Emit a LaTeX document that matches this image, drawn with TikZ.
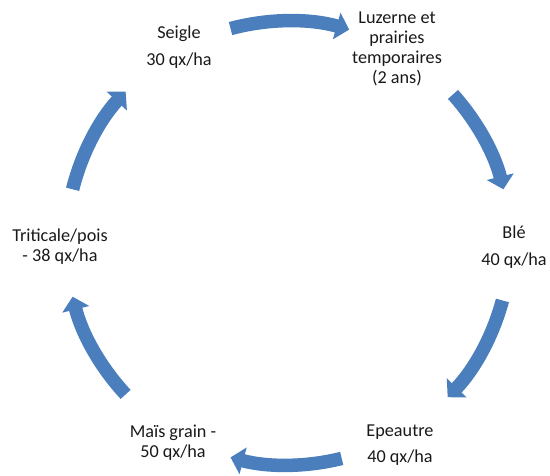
\documentclass[tikz,border=0pt]{standalone}
\usepackage{fontspec}
\setmainfont{Carlito}
\usetikzlibrary{arrows.meta}
\definecolor{cycblue}{RGB}{74,126,188}
\tikzset{
  lbl/.style={align=center, inner sep=0pt, font=\fontsize{18.2}{19.8}\selectfont, text=black!90},
  cyc/.style={draw=cycblue, line width=13.5pt, -{Triangle[length=13pt,width=27pt]}},
}
\begin{document}
\begin{tikzpicture}[x=1pt,y=1pt]
\useasboundingbox (0,0) rectangle (550,475);
\coordinate (c) at (288,232);
\node[lbl] (seigle) at (179,428) {Seigle\\[7.5pt]30 qx/ha};
\node[lbl] (luzerne) at (397,426) {Luzerne et\\prairies\\temporaires\\(2 ans)};
\node[lbl] (ble) at (514,228) {Blé\\[7.5pt]40 qx/ha};
\node[lbl] (epeautre) at (400,30) {Epeautre\\[6.5pt]40 qx/ha};
\node[lbl] (mais) at (173,32) {Maïs grain -\\50 qx/ha};
\node[lbl] (triticale) at (60,228.5) {Triticale/pois\\- 38 qx/ha};
\draw[cyc] ([shift={(105:222)}]c) arc[start angle=105, end angle=74, radius=222];
\draw[cyc] ([shift={(42:222)}]c) arc[start angle=42, end angle=14, radius=222];
\draw[cyc] ([shift={(-15:222)}]c) arc[start angle=-15, end angle=-44, radius=222];
\draw[cyc] ([shift={(-76:222)}]c) arc[start angle=-76, end angle=-105, radius=222];
\draw[cyc] ([shift={(-137:222)}]c) arc[start angle=-137, end angle=-166, radius=222];
\draw[cyc] ([shift={(166:222)}]c) arc[start angle=166, end angle=137, radius=222];
\end{tikzpicture}
\end{document}
